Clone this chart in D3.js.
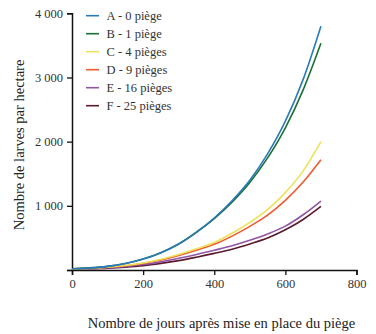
<!DOCTYPE html>
<html><head><meta charset="utf-8">
<script src="https://cdn.jsdelivr.net/npm/d3@7"></script>
<style>
html,body{margin:0;padding:0;background:#fff;}
</style></head>
<body><svg id="c" width="376" height="334"></svg>
<script>
const days = [0,50,100,150,200,250,300,350,400,450,500,550,600,650,700];
const seriesNames = ["A - 0 piège","B - 1 piège","C - 4 pièges","D - 9 pièges","E - 16 pièges","F - 25 pièges"];
const seriesColors = ["#2a7ab9","#1b6f35","#ece25a","#ef5a30","#9055a5","#5b1a30"];
const valuesA = [20,33,57,100,170,270,405,590,810,1080,1400,1810,2320,2970,3800];
const valuesB = [20,33,57,100,170,270,405,588,802,1058,1365,1747,2216,2807,3534];
const valuesC = [18,28,44,70,109,167,243,330,430,572,742,941,1206,1544,2000];
const valuesD = [17,27,42,66,103,157,228,308,400,528,680,855,1085,1370,1718];
const valuesE = [15,23,35,55,85,127,182,242,308,378,462,561,684,861,1075];
const valuesF = [12,19,29,45,68,103,146,200,259,324,406,498,626,787,990];
const xTicks = [0,200,400,600,800];
const yTicks = [0,1000,2000,3000,4000];
const allValues = [valuesA,valuesB,valuesC,valuesD,valuesE,valuesF];

const FONT = "'Liberation Serif','Times New Roman','DejaVu Serif',serif";
const svg = d3.select("#c");
const x = d3.scaleLinear().domain([0,800]).range([72,356.5]);
const y = d3.scaleLinear().domain([0,4000]).range([270,13.3]);
const fmt = d => d===0 ? "0" : d3.format(",")(d).replace(/,/g," ");

const xa = svg.append("g").attr("transform","translate(0,270)")
  .call(d3.axisBottom(x).tickValues(xTicks).tickSize(5).tickPadding(4).tickFormat(fmt));
const ya = svg.append("g").attr("transform","translate(72,0)")
  .call(d3.axisLeft(y).tickValues(yTicks).tickSize(5).tickPadding(4).tickFormat(d => d===0 ? "" : fmt(d)));
[xa,ya].forEach(a=>{
  a.attr("font-family",FONT).attr("font-size",12.5);
  a.selectAll("path").attr("stroke","#111").attr("stroke-width",1.5);
  a.selectAll("line").attr("stroke","#111").attr("stroke-width",1.3);
  a.selectAll("text").attr("fill","#333");
});

const line = d3.line().x((d,i)=>x(days[i])).y(d=>y(d)).curve(d3.curveMonotoneX);
for (let k = allValues.length-1; k>=0; k--) {
  svg.append("path").attr("d", line(allValues[k])).attr("fill","none")
    .attr("stroke", seriesColors[k]).attr("stroke-width",1.6);
}

const lg = svg.append("g").attr("font-family",FONT).attr("font-size",12.5).attr("fill","#333");
seriesNames.forEach((n,i)=>{
  const yy = 15.7 + i*18;
  lg.append("line").attr("x1",86).attr("x2",99).attr("y1",yy).attr("y2",yy)
    .attr("stroke",seriesColors[i]).attr("stroke-width",1.6);
  lg.append("text").attr("x",106.5).attr("y",yy+4).text(n);
});

svg.append("text").attr("x",221.5).attr("y",328).attr("text-anchor","middle")
  .attr("font-family",FONT).attr("fill","#222")
  .attr("font-size",14.5).text("Nombre de jours après mise en place du piège");
svg.append("text").attr("transform","translate(24,145) rotate(-90)").attr("text-anchor","middle")
  .attr("font-family",FONT).attr("fill","#222")
  .attr("font-size",14.5).text("Nombre de larves par hectare");
</script></body></html>
